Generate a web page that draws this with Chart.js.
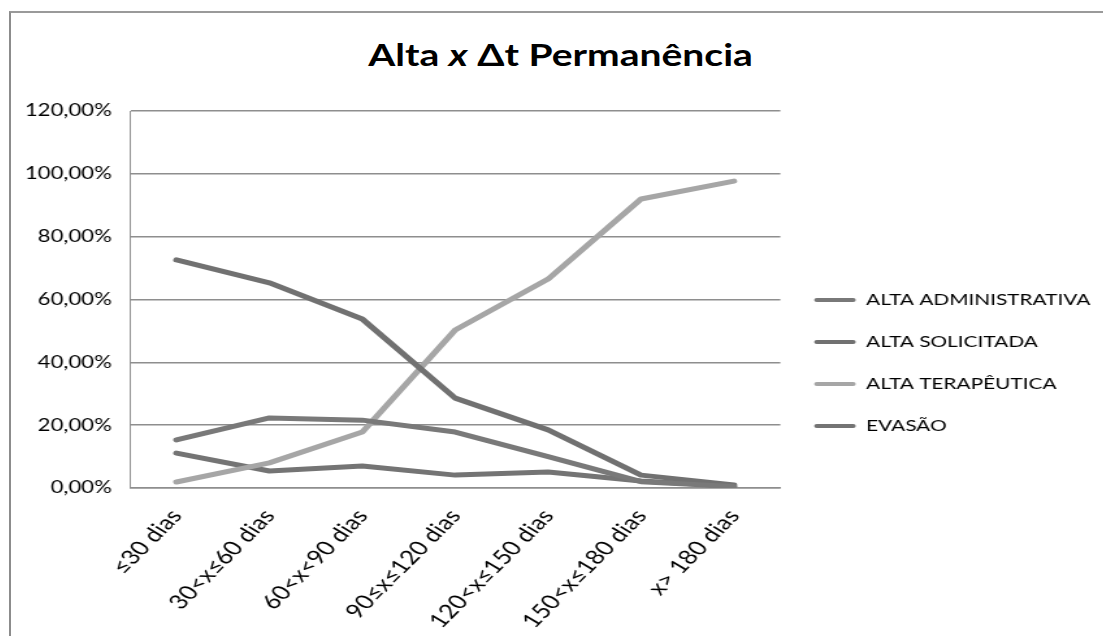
<!DOCTYPE html>
<html>
<head>
<meta charset="utf-8">
<script src="https://cdn.jsdelivr.net/npm/chart.js@4/dist/chart.umd.min.js"></script>
<style>
  html, body { margin: 0; padding: 0; background: #fff; overflow: hidden; }
  #frame {
    position: absolute; left: 9px; top: 11px; width: 1200px; height: 700px;
    border-left: 2px solid #8c8c8c; border-top: 2px solid #9a9a9a;
  }
  /* the original picture is drawn about 1.3x wider than tall, so stretch horizontally */
  .stretch { transform: scaleX(1.3); transform-origin: 0 0; }
  #title {
    position: absolute; left: 10px; top: 36px; width: 847px; text-align: center;
    font: bold 30px Lato, sans-serif; color: #000; white-space: nowrap;
  }
  #wrap { position: absolute; left: 10px; top: 11px; width: 841px; height: 625px; }
</style>
</head>
<body>
<div id="frame"></div>
<div id="title" class="stretch">Alta <i>x</i> Δt Permanência</div>
<div id="wrap" class="stretch"><canvas id="chart"></canvas></div>
<script>
// categorias (tempo de permanência)
const categories = ["≤30 dias", "30<x≤60 dias", "60<x<90 dias", "90≤x≤120 dias", "120<x≤150 dias", "150<x≤180 dias", "x> 180 dias"];

// valores em %
const altaAdministrativa = [15.3, 22.3, 21.6, 17.8, 10.0, 2.0, 0.5];
const altaSolicitada = [72.6, 65.3, 53.8, 28.6, 18.5, 4.1, 1.0];
const altaTerapeutica = [1.9, 8.0, 17.8, 50.3, 66.5, 92.0, 97.7];
const evasao = [11.1, 5.4, 7.0, 4.1, 5.1, 2.2, 0.6];

const seriesNames = ["ALTA ADMINISTRATIVA", "ALTA SOLICITADA", "ALTA TERAPÊUTICA", "EVASÃO"];
const seriesColors = ["#797979", "#717171", "#a6a6a6", "#747474"];
const yTicks = [0, 20, 40, 60, 80, 100, 120];

const FONT = "Lato, sans-serif";
const GRID = "#8e8e8e";

function lineDataset(i, values) {
    return {
        label: seriesNames[i],
        data: values,
        borderColor: seriesColors[i],
        backgroundColor: seriesColors[i],
        borderWidth: 5,
        borderCapStyle: "round",
        borderJoinStyle: "round",
        pointRadius: 0,
        tension: 0
    };
}

const ctx = document.getElementById("chart").getContext("2d");
new Chart(ctx, {
    type: "line",
    data: {
        labels: categories,
        datasets: [
            lineDataset(0, altaAdministrativa),
            lineDataset(1, altaSolicitada),
            lineDataset(2, altaTerapeutica),
            lineDataset(3, evasao)
        ]
    },
    options: {
        responsive: true,
        maintainAspectRatio: false,
        animation: false,
        layout: { padding: { top: 79, left: 0, right: 0, bottom: 0 } },
        plugins: {
            title: { display: false },
            tooltip: { enabled: false },
            legend: {
                position: "right",
                align: "center",
                maxWidth: 400,
                labels: {
                    color: "#000",
                    font: { family: FONT, size: 16 },
                    boxWidth: 32,
                    boxHeight: 4,
                    padding: 26,
                    generateLabels: chart => Chart.defaults.plugins.legend.labels.generateLabels(chart)
                        .map(l => ({ ...l, lineWidth: 0, fillStyle: l.strokeStyle, borderRadius: 2 }))
                }
            }
        },
        scales: {
            x: {
                offset: true,
                grid: { display: false, drawTicks: false },
                border: { display: true, color: GRID, width: 1.5 },
                ticks: {
                    color: "#000",
                    font: { family: FONT, size: 20 },
                    minRotation: 52.4,
                    maxRotation: 52.4,
                    padding: 17
                },
                afterFit: s => { s.height = 148; }
            },
            xTop: {
                position: "top",
                display: true,
                grid: { display: false, drawTicks: false },
                border: { display: false },
                ticks: { display: false },
                afterFit: s => { s.height = 21; }
            },
            y: {
                min: 0,
                max: 120,
                afterBuildTicks: s => { s.ticks = yTicks.map(v => ({ value: v })); },
                grid: { color: GRID, lineWidth: 1.5, drawTicks: false },
                border: { display: true, color: GRID, width: 1 },
                ticks: {
                    color: "#000",
                    font: { family: FONT, size: 17 },
                    padding: 14,
                    callback: v => v.toFixed(2).replace(".", ",") + "%"
                },
                afterFit: s => { s.width = 92.3; }
            }
        }
    }
});
</script>
</body>
</html>
